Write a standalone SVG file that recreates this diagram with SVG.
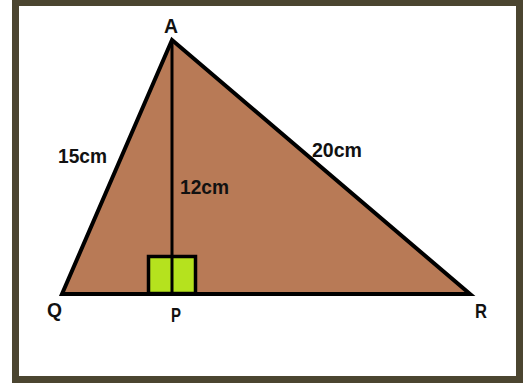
<svg xmlns="http://www.w3.org/2000/svg" width="527" height="385" viewBox="0 0 527 385">
<style>
.lbl{font-family:"Liberation Sans",Arial,sans-serif;font-weight:bold;font-size:20px;fill:#111}
</style>
<rect width="527" height="385" fill="#fff"/>
<rect x="15.5" y="2.5" width="504" height="377" fill="#fff" stroke="#4b4530" stroke-width="7"/>
<g id="triangle">
<polygon points="172,40 62,294 470,294" fill="#b87a56" stroke="#000" stroke-width="4" stroke-linejoin="miter"/>
</g>
<g id="rightangle">
<rect x="148.5" y="256.5" width="47" height="37" fill="#b5e21e" stroke="#000" stroke-width="3.5"/>
</g>
<g id="connectors">
<line x1="172" y1="40" x2="172" y2="294" stroke="#000" stroke-width="3"/>
<line x1="62" y1="294" x2="470" y2="294" stroke="#000" stroke-width="4"/>
</g>
<g id="node-A"><text class="lbl" x="164" y="33" textLength="14" lengthAdjust="spacingAndGlyphs">A</text></g>
<g id="node-Q"><text class="lbl" x="47" y="317" textLength="15" lengthAdjust="spacingAndGlyphs">Q</text></g>
<g id="node-P"><text class="lbl" x="171" y="322" textLength="10" lengthAdjust="spacingAndGlyphs">P</text></g>
<g id="node-R"><text class="lbl" x="475" y="318" textLength="12" lengthAdjust="spacingAndGlyphs">R</text></g>
<g id="label-15"><text class="lbl" x="58" y="163" textLength="49" lengthAdjust="spacingAndGlyphs">15cm</text></g>
<g id="label-20"><text class="lbl" x="312" y="157" textLength="50" lengthAdjust="spacingAndGlyphs">20cm</text></g>
<g id="label-12"><text class="lbl" x="180" y="194" textLength="49" lengthAdjust="spacingAndGlyphs">12cm</text></g>
</svg>
